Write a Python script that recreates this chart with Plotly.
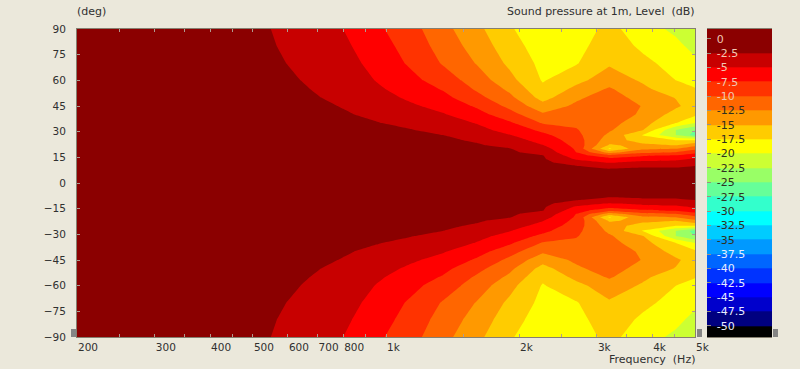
import plotly.graph_objects as go

# ---- data ----
angles_top = [0, 5, 8, 10, 12, 14, 16, 18, 20, 22, 25, 28, 31, 35, 40, 45, 50, 55, 60, 70, 80, 90]
freqs = [200, 400, 476, 566, 673, 800, 951, 1131, 1345, 1600, 1903, 2263, 2691, 3200, 3805, 4525, 5000]

z_200 = [-0.1,-0.1,-0.1,-0.1,-0.1,-0.1,-0.1,-0.1,-0.1,-0.1,-0.1,-0.1,-0.1,-0.1,-0.2,-0.2,-0.2,-0.2,-0.2,-0.3,-0.3,-0.3]
z_400 = [-0.1,-0.1,-0.1,-0.1,-0.1,-0.2,-0.2,-0.2,-0.3,-0.3,-0.3,-0.4,-0.4,-0.5,-0.6,-0.7,-0.7,-0.8,-0.9,-1.0,-1.1,-1.2]
z_476 = [-0.1,-0.1,-0.1,-0.2,-0.2,-0.3,-0.3,-0.4,-0.4,-0.5,-0.5,-0.6,-0.7,-0.7,-0.9,-1.0,-1.1,-1.2,-1.3,-1.5,-1.7,-1.8]
z_566 = [-0.1,-0.1,-0.2,-0.3,-0.3,-0.4,-0.5,-0.6,-0.6,-0.7,-0.8,-0.9,-1.0,-1.1,-1.3,-1.5,-1.7,-1.9,-2.0,-2.3,-2.5,-2.65]
z_673 = [-0.1,-0.2,-0.3,-0.4,-0.5,-0.6,-0.7,-0.8,-0.9,-1.0,-1.1,-1.2,-1.4,-1.6,-1.8,-2.0,-2.3,-2.5,-2.7,-3.0,-3.4,-3.8]
z_800 = [-0.1,-0.2,-0.4,-0.5,-0.6,-0.7,-0.9,-1.0,-1.1,-1.3,-1.5,-1.6,-1.8,-2.0,-2.3,-2.6,-2.9,-3.2,-3.4,-4.0,-4.5,-5.0]
z_951 = [-0.1,-0.3,-0.5,-0.6,-0.7,-0.9,-1.0,-1.2,-1.3,-1.5,-1.7,-1.9,-2.1,-2.4,-2.9,-3.5,-4.0,-4.6,-5.1,-5.8,-6.4,-7.0]
z_1131 = [-0.1,-0.3,-0.6,-0.7,-0.9,-1.0,-1.2,-1.4,-1.6,-1.8,-2.0,-2.2,-2.4,-3.0,-3.8,-4.6,-5.4,-6.1,-6.7,-7.8,-8.4,-9.0]
z_1345 = [-0.1,-0.4,-0.7,-0.9,-1.1,-1.3,-1.4,-1.6,-1.8,-2.0,-2.2,-2.5,-3.1,-3.8,-4.8,-5.8,-6.8,-7.7,-8.7,-10.2,-11.0,-11.7]
z_1600 = [-0.1,-0.5,-0.8,-1.0,-1.2,-1.4,-1.7,-1.9,-2.1,-2.3,-2.7,-3.4,-4.2,-5.1,-6.5,-7.8,-9.2,-10.3,-11.1,-12.6,-13.5,-14.3]
z_1903 = [-0.2,-0.7,-1.0,-1.3,-1.5,-1.8,-2.0,-2.2,-2.4,-3.0,-3.9,-4.9,-5.9,-7.1,-9.0,-10.6,-11.9,-13.0,-14.2,-15.5,-16.4,-17.2]
z_2263 = [-0.2,-0.9,-1.3,-1.6,-1.9,-2.2,-2.4,-3.2,-4.0,-4.9,-5.9,-6.9,-8.1,-10.2,-12.1,-14.1,-15.9,-17.0,-17.7,-18.2,-18.8,-19.3]
z_2691 = [-0.2,-1.3,-2.0,-2.4,-3.8,-5.3,-6.4,-7.5,-7.8,-8.2,-8.7,-9.3,-9.8,-10.5,-11.2,-12.0,-13.0,-14.4,-15.7,-17.7,-18.4,-19.0]
z_3200 = [-0.2,-1.5,-2.3,-3.5,-5.2,-6.7,-9.2,-13.5,-17.8,-15.3,-13.9,-13.0,-12.2,-11.6,-11.0,-10.8,-11.2,-12.2,-13.7,-15.3,-16.0,-16.7]
z_3805 = [-0.2,-1.4,-2.1,-2.9,-4.4,-5.9,-7.8,-10.7,-13.0,-14.4,-16.0,-17.6,-14.8,-14.0,-12.9,-12.6,-13.6,-14.5,-15.3,-16.8,-18.0,-19.0]
z_4525 = [-0.2,-1.4,-2.1,-2.9,-4.1,-5.6,-7.2,-10.0,-12.5,-15.0,-17.5,-22.5,-22.5,-17.5,-16.0,-14.6,-15.1,-16.4,-17.5,-18.5,-19.4,-20.5]
z_5000 = [-0.2,-1.3,-2.0,-2.5,-3.6,-4.7,-6.2,-8.2,-10.8,-13.0,-17.5,-26.0,-25.0,-20.0,-17.0,-16.1,-16.7,-17.4,-18.1,-19.5,-20.7,-21.8]

band_colors = ["#000000", "#000080", "#0000cc", "#0000ff", "#0033ff", "#0066ff", "#0099ff",
               "#00ccff", "#00ffff", "#33ffcc", "#66ff99", "#99ff66", "#ccff33", "#ffff00",
               "#ffcc00", "#ff9900", "#ff6600", "#ff3300", "#ff0000", "#c80000", "#8b0000"]
bar_edges = [-52.5, -50, -47.5, -45, -42.5, -40, -37.5, -35, -32.5, -30, -27.5, -25, -22.5,
             -20, -17.5, -15, -12.5, -10, -7.5, -5, -2.5, 2.5]
bar_values = [-51.25, -48.75, -46.25, -43.75, -41.25, -38.75, -36.25, -33.75, -31.25, -28.75,
              -26.25, -23.75, -21.25, -18.75, -16.25, -13.75, -11.25, -8.75, -6.25, -3.75, -1.25]
bar_ticks = [0, -2.5, -5, -7.5, -10, -12.5, -15, -17.5, -20, -22.5, -25, -27.5, -30, -32.5,
             -35, -37.5, -40, -42.5, -45, -47.5, -50]
bar_labels = ["0", "-2.5", "-5", "-7.5", "-10", "-12.5", "-15", "-17.5", "-20", "-22.5", "-25",
              "-27.5", "-30", "-32.5", "-35", "-37.5", "-40", "-42.5", "-45", "-47.5", "-50"]
bar_label_colors = ["#f0c8b4"] * 5 + ["#303020"] * 10 + ["#e8ecff"] * 6

x_tick_vals = [200, 250, 300, 350, 400, 450, 500, 600, 700, 800, 900, 1000, 1500, 2000, 2500, 3000, 3500, 4000, 4500, 5000]
x_tick_text = ["200", "", "300", "", "400", "", "500", "600", "700", "800", "", "1k", "", "2k", "", "3k", "", "4k", "", "5k"]
y_ticks = [90, 75, 60, 45, 30, 15, 0, -15, -30, -45, -60, -75, -90]

# ---- figure ----
columns = [z_200, z_400, z_476, z_566, z_673, z_800, z_951, z_1131, z_1345, z_1600, z_1903,
           z_2263, z_2691, z_3200, z_3805, z_4525, z_5000]
angles = [-a for a in reversed(angles_top[1:])] + angles_top
z = []
for i in range(len(angles_top) - 1, 0, -1):
    z.append([c[i] for c in columns])
for i in range(len(angles_top)):
    z.append([c[i] for c in columns])

n = len(band_colors)
cscale = []
for i, c in enumerate(band_colors):
    cscale += [[i / n, c], [(i + 1) / n, c]]

W, H = 800, 369
BG = "#ebe8db"
AX = "#857f70"
TXT = "#303030"
FONT = "DejaVu Sans"

fig = go.Figure()
fig.add_trace(go.Contour(
    x=freqs, y=angles, z=z, colorscale=cscale, zmin=-52.5, zmax=0, zauto=False,
    autocontour=False, contours=dict(start=-50, end=-2.5, size=2.5, coloring="fill", showlines=False),
    line=dict(width=0, smoothing=0), showscale=False, hoverinfo="skip",
))
fig.add_trace(go.Heatmap(
    x=[0, 1], y=bar_edges, z=[[v] for v in bar_values], colorscale=cscale, zmin=-52.5, zmax=0,
    zauto=False, showscale=False, hoverinfo="skip", xaxis="x2", yaxis="y2",
))

fig.update_layout(
    width=W, height=H, autosize=False, margin=dict(l=0, r=0, t=0, b=0, pad=0, autoexpand=False),
    paper_bgcolor=BG, plot_bgcolor=BG, showlegend=False,
    font=dict(family=FONT, size=10.5, color=TXT),
    xaxis=dict(
        type="log", domain=[77 / W, 695 / W], range=[2.30103, 3.69897], anchor="y",
        tickmode="array", tickvals=x_tick_vals, ticktext=x_tick_text, tickangle=0,
        ticks="inside", ticklen=3, tickcolor="#b09a90", tickwidth=1, automargin=False,
        ticklabelposition="outside right", showgrid=False, zeroline=False,
        showline=True, linecolor=AX, linewidth=1, mirror="ticks",
    ),
    yaxis=dict(
        domain=[1 - 337 / H, 1 - 29 / H], range=[-90, 90], anchor="x", automargin=False,
        tickmode="array", tickvals=y_ticks, ticks="inside", ticklen=3, tickcolor="#b09a90",
        ticklabelstandoff=8, showgrid=False, zeroline=False,
        showline=True, linecolor=AX, linewidth=1, mirror="ticks",
    ),
    xaxis2=dict(
        domain=[707 / W, 772 / W], range=[0, 1], anchor="y2", showticklabels=False, automargin=False,
        ticks="", showgrid=False, zeroline=False, showline=True, linecolor=AX, linewidth=1, mirror=True,
    ),
    yaxis2=dict(
        domain=[1 - 337 / H, 1 - 29 / H], range=[-51.92, 1.68], anchor="x2", automargin=False,
        tickmode="array", tickvals=bar_ticks,
        ticktext=[f'<span style="color:{c}">{t}</span>' for t, c in zip(bar_labels, bar_label_colors)],
        ticks="inside", ticklen=4, tickcolor="#9a9080", ticklabelposition="inside",
        ticklabelstandoff=5, showgrid=False, zeroline=False,
        tickfont=dict(size=11),
    ),
    annotations=[
        dict(text="(deg)", x=75 / W, y=1 - 12 / H, xref="paper", yref="paper", xanchor="left",
             yanchor="middle", showarrow=False, font=dict(size=11, color=TXT)),
        dict(text="Sound pressure at 1m, Level  (dB)", x=697 / W, y=1 - 12 / H, xref="paper", yref="paper",
             xanchor="right", yanchor="middle", showarrow=False, font=dict(size=11, color=TXT)),
        dict(text="Frequency  (Hz)", x=697 / W, y=1 - 359 / H, xref="paper", yref="paper",
             xanchor="right", yanchor="middle", showarrow=False, font=dict(size=11, color=TXT)),
    ],
    shapes=[
        dict(type="rect", xref="paper", yref="paper", x0=x0 / W, x1=x1 / W, y0=1 - 337 / H, y1=1 - 329 / H,
             fillcolor="#858585", line=dict(width=0))
        for x0, x1 in [(71, 76), (697, 702), (773, 778)]
    ],
)

fig.write_html("out.html", config=dict(displayModeBar=False),
               post_script="document.body.style.margin='0';document.body.style.overflow='hidden';")
